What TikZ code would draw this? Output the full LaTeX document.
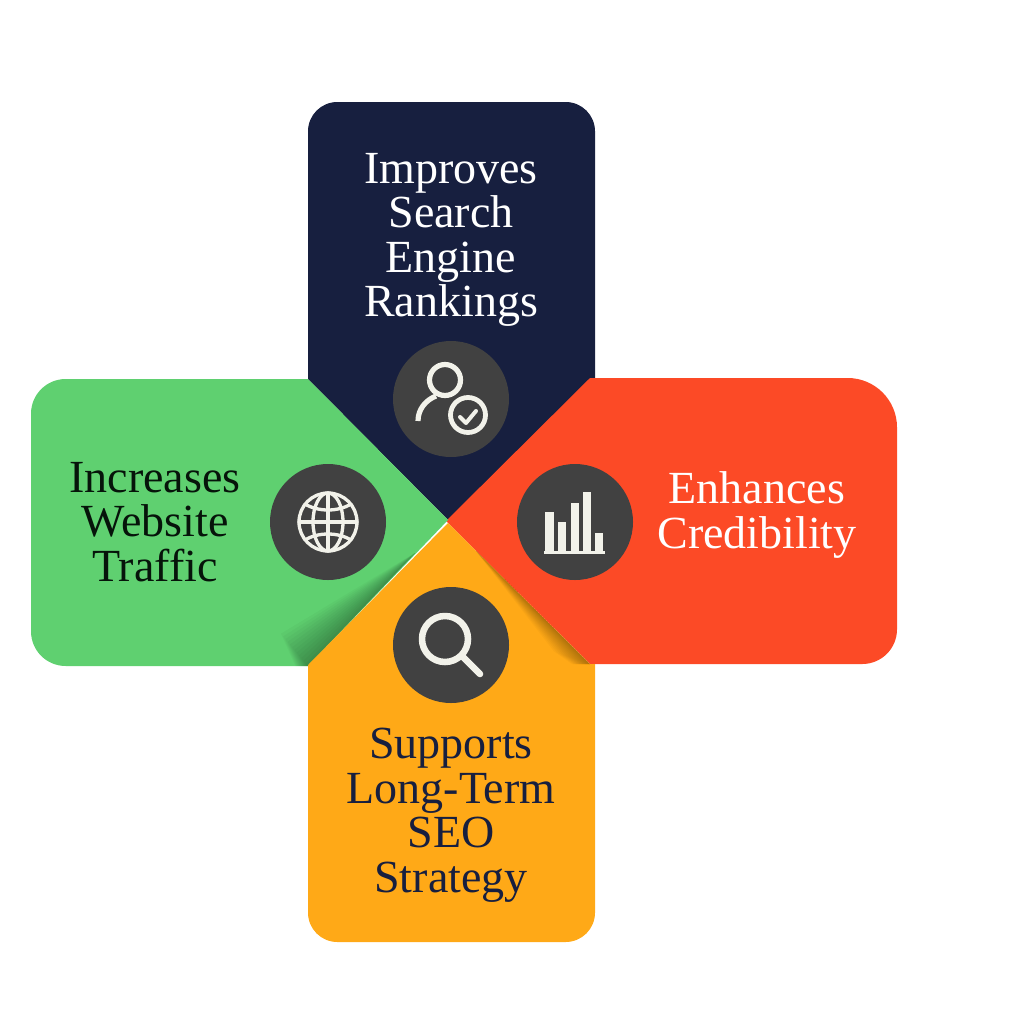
\documentclass[tikz,border=0pt]{standalone}
\usepackage{fontspec}
\setmainfont{Liberation Serif}
\definecolor{navyc}{HTML}{171F3F}
\definecolor{greenc}{HTML}{5FD070}
\definecolor{redc}{HTML}{FC4A26}
\definecolor{orangec}{HTML}{FFA917}
\definecolor{discc}{HTML}{414141}
\definecolor{iconc}{HTML}{F2F2EA}
\definecolor{greentext}{HTML}{06140A}
\tikzset{
  disc/.style={circle,fill=discc,minimum size=87pt,inner sep=0pt},
  label/.style={align=center,font=\fontsize{34.5pt}{33.4pt}\selectfont,inner sep=0pt},
  iconline/.style={draw=iconc,line cap=round,line join=round},
  shadowwedge/.style={fill=black,fill opacity=0.028,draw=none},
}
\begin{document}
\begin{tikzpicture}[x=0.75pt,y=-0.75pt]
\useasboundingbox (0,0) rectangle (1024,1024);
% petals
\fill[navyc] (448,520) -- (308,379) [rounded corners=22pt] -- (308,102) -- (595,102) [rounded corners=0pt] -- (595,378) -- cycle;
\fill[redc] (446,521) -- (590,378) [rounded corners=37pt] -- (897,378) [rounded corners=26pt] -- (897,664) [rounded corners=0pt] -- (590,664) -- cycle;
\fill[greenc] (448,520) -- (308,379) [rounded corners=26pt] -- (31,379) -- (31,666) [rounded corners=0pt] -- (308,666) -- cycle;
% shadow on green
\begin{scope}
\clip (448,520) -- (308,379) -- (31,379) -- (31,666) -- (308,666) -- cycle;
\foreach \w in {3,6,...,36}{
  \fill[shadowwedge] (415,553) -- (308,666) -- ({308-\w*0.35},666) -- ({308-\w*0.75},{666-\w*0.9}) -- cycle;
}
\end{scope}
% orange petal
\fill[orangec] (448,523) -- (590,664) -- (595,664) [rounded corners=22pt] -- (595,942) -- (308,942) [rounded corners=0pt] -- (308,665) -- cycle;
\begin{scope}
\clip (448,523) -- (590,664) -- (595,664) -- (595,942) -- (308,942) -- (308,665) -- cycle;
\foreach \w in {3,6,...,36}{
  \fill[shadowwedge] (476,551) -- (590,664) -- ({590-\w*0.5},664) -- ({590-\w*1.0},{664-\w*0.35}) -- cycle;
}
\end{scope}
% discs
\node[disc] (dtop) at (451,399) {};
\node[disc] (dleft) at (328,522) {};
\node[disc] (dright) at (575,522) {};
\node[disc] (dbottom) at (451,645) {};
% labels
\node[label,text=white] (ltop) at (451,240) {Improves\\Search\\Engine\\Rankings};
\node[label,text=greentext] (lleft) at (155,522) {Increases\\Website\\Traffic};
\node[label,text=white] (lright) at (757,515) {Enhances\\Credibility};
\node[label,text=navyc] (lbottom) at (451,815) {Supports\\Long-Term\\SEO\\Strategy};
% person icon
\draw[iconline,line width=3.9pt] (445,380) circle (15.5);
\draw[iconline,line width=3.9pt,line cap=butt] (418,421) .. controls (418,409) and (426,400) .. (436,396);
\fill[discc] (468,415) circle (23);
\draw[iconline,line width=3.6pt] (468,415) circle (17.5);
\draw[iconline,line width=3pt] (460,417) -- (466,423) -- (476,411);
% globe icon
\begin{scope}[iconline,line width=2.5pt]
\draw (328,522) circle (29);
\draw (328,522) ellipse (15 and 29);
\draw (328,493) -- (328,551);
\draw (299,522) -- (357,522);
\draw (305,504) .. controls (318,512) and (338,512) .. (351,504);
\draw (305,540) .. controls (318,532) and (338,532) .. (351,540);
\end{scope}
% bars icon
\fill[iconc] (545,512) rectangle (554,552);
\fill[iconc] (558,522) rectangle (566,552);
\fill[iconc] (571,503) rectangle (579,552);
\fill[iconc] (583,492) rectangle (591,552);
\fill[iconc] (595,533) rectangle (603,552);
\fill[iconc] (544,551) rectangle (605,553.5);
% magnifier icon
\draw[iconline,line width=4.9pt] (445,639) circle (23);
\draw[iconline,line width=4.9pt] (463,657) -- (480,674);
\end{tikzpicture}
\end{document}
